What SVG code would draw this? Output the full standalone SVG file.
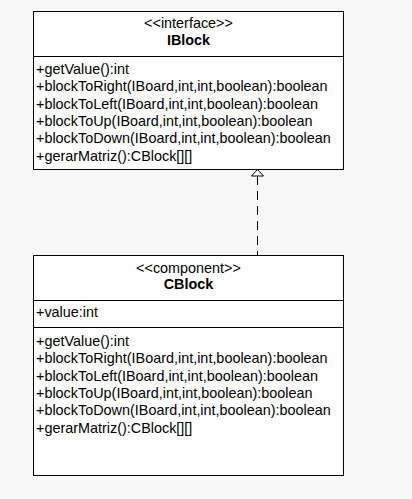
<svg xmlns="http://www.w3.org/2000/svg" width="412" height="499" viewBox="0 0 412 499">
<style>
.box{fill:#ffffff;stroke:#000000;stroke-width:1}
.div{stroke:#000000;stroke-width:1}
text{font-family:"Liberation Sans",Arial,sans-serif;font-size:14.4px;fill:#000000}
.c{text-anchor:middle}
.b{font-weight:bold}
.edge{fill:none;stroke:#000000;stroke-width:1;stroke-dasharray:9 6}
</style>
<defs>
<marker id="tri" viewBox="0 0 14 8" refX="7" refY="0.5" markerWidth="14" markerHeight="8" markerUnits="userSpaceOnUse" orient="auto-start-reverse">
<path d="M1,7.5 L7,0.5 L13,7.5 Z" fill="#ffffff" stroke="#000000" stroke-width="1"/>
</marker>
</defs>
<rect x="0" y="0" width="412" height="499" fill="#f8f8f8"/>
<g id="connectors">
<path d="M257.5,176 L257.5,255.5" class="edge"/>
<path d="M251.5,176 L257.5,169.5 L263.5,176 Z" fill="#ffffff" stroke="#000000" stroke-width="1"/>
</g>
<g id="IBlock">
<rect class="box" x="33.5" y="11.5" width="310" height="158"/>
<line class="div" x1="33.5" y1="56.5" x2="343.5" y2="56.5"/>
<text class="c" x="188.5" y="28">&lt;&lt;interface&gt;&gt;</text>
<text class="c b" x="188.5" y="44.5">IBlock</text>
<text x="36" y="74">+getValue():int</text>
<text x="36" y="91.3">+blockToRight(IBoard,int,int,boolean):boolean</text>
<text x="36" y="108.6">+blockToLeft(IBoard,int,int,boolean):boolean</text>
<text x="36" y="125.9">+blockToUp(IBoard,int,int,boolean):boolean</text>
<text x="36" y="143.2">+blockToDown(IBoard,int,int,boolean):boolean</text>
<text x="36" y="160.5">+gerarMatriz():CBlock[][]</text>
</g>
<g id="CBlock">
<rect class="box" x="33.5" y="255.5" width="310" height="220"/>
<line class="div" x1="33.5" y1="300.5" x2="343.5" y2="300.5"/>
<line class="div" x1="33.5" y1="327.5" x2="343.5" y2="327.5"/>
<text class="c" x="188.5" y="272.5">&lt;&lt;component&gt;&gt;</text>
<text class="c b" x="188.5" y="289">CBlock</text>
<text x="36" y="317">+value:int</text>
<text x="36" y="346">+getValue():int</text>
<text x="36" y="363.3">+blockToRight(IBoard,int,int,boolean):boolean</text>
<text x="36" y="380.6">+blockToLeft(IBoard,int,int,boolean):boolean</text>
<text x="36" y="397.9">+blockToUp(IBoard,int,int,boolean):boolean</text>
<text x="36" y="415.2">+blockToDown(IBoard,int,int,boolean):boolean</text>
<text x="36" y="432.5">+gerarMatriz():CBlock[][]</text>
</g>
</svg>
